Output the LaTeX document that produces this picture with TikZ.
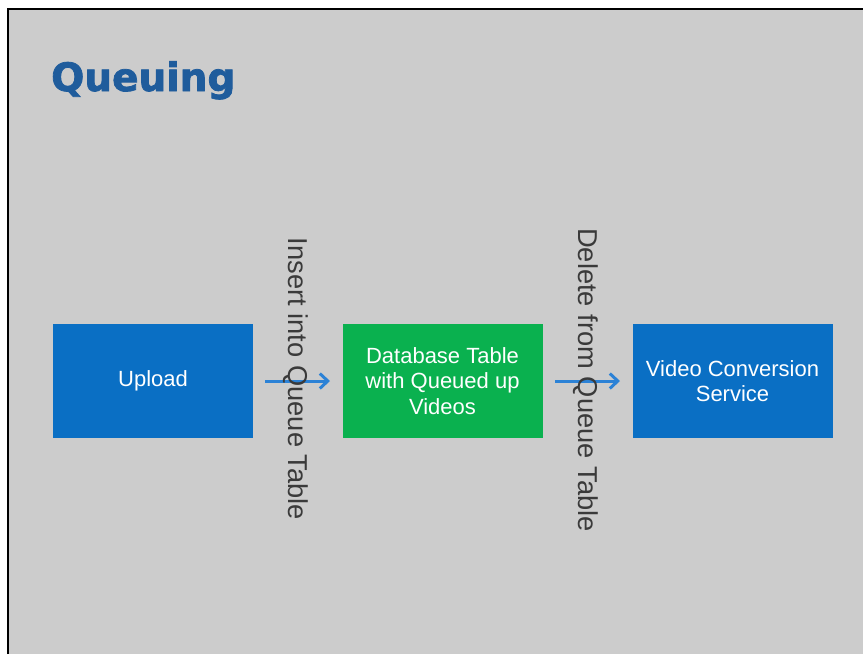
\documentclass[tikz,border=0pt]{standalone}
\usepackage{fontspec}
\setmainfont{Liberation Sans}
\newfontfamily\titlefont{DejaVu Sans Bold}[FakeBold=2]
\usetikzlibrary{arrows.meta}
\definecolor{slidebg}{HTML}{CCCCCC}
\definecolor{titleblue}{HTML}{1F5C9C}
\definecolor{boxblue}{HTML}{0A6FC4}
\definecolor{boxgreen}{HTML}{0AB14F}
\definecolor{arrowblue}{HTML}{2C82D6}
\definecolor{labelgray}{HTML}{3A3A3A}
\tikzset{
  x=1pt, y=1pt,
  stepbox/.style={rectangle, minimum width=200pt, minimum height=114pt, inner sep=0pt,
    text=white, align=center, font=\fontsize{22}{25.5}\selectfont},
  bluebox/.style={stepbox, fill=boxblue},
  greenbox/.style={stepbox, fill=boxgreen},
  flow/.style={draw=arrowblue, line width=3pt, -{Straight Barb[length=8pt,width=15pt,line width=3pt]}},
  vlabel/.style={rotate=-90, text=labelgray, inner sep=0pt, font=\fontsize{27.3}{30}\selectfont}
}
\begin{document}
\begin{tikzpicture}
\useasboundingbox (0,0) rectangle (863,-654);
\fill[white] (0,0) rectangle (863,-654);
\fill[slidebg] (8,-9) rectangle (863,-654);
\draw[black, line width=2.6pt] (8,-654) -- (8,-9) -- (863,-9);
\node[anchor=base west, inner sep=0pt, text=titleblue, font=\titlefont\fontsize{39}{44}\selectfont] (title) at (51,-91) {Queuing};
\node[bluebox] (upload) at (153,-381) {Upload};
\node[greenbox] (db) at (442.5,-381) {Database Table\\with Queued up\\Videos};
\node[bluebox] (conv) at (732.5,-381) {Video Conversion\\Service};
\coordinate (a1s) at (265,-381);
\coordinate (a1e) at (330,-381);
\coordinate (a2s) at (555,-381);
\coordinate (a2e) at (620,-381);
\draw[flow] (a1s) -- (a1e);
\draw[flow] (a2s) -- (a2e);
\node[vlabel] (l1) at (296,-379) {Insert into Queue Table};
\node[vlabel] (l2) at (586,-380) {Delete from Queue Table};
\end{tikzpicture}
\end{document}
